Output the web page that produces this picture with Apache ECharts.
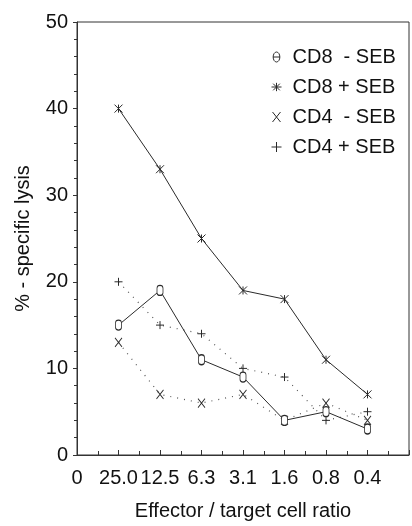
<!DOCTYPE html>
<html><head><meta charset="utf-8">
<script src="https://cdn.jsdelivr.net/npm/echarts@6/dist/echarts.min.js"></script>
<style>html,body{margin:0;padding:0;background:#fff}#c{width:412px;height:526px}</style>
</head><body><div id="c"></div>
<script>
const ratioLabels = ['25.0', '12.5', '6.3', '3.1', '1.6', '0.8', '0.4'];
const cd8MinusSEB = [15, 19, 11, 9, 4, 5, 3];
const cd8PlusSEB  = [40, 33, 25, 19, 18, 11, 7];
const cd4MinusSEB = [13, 7, 6, 7, 4, 6, 4];
const cd4PlusSEB  = [20, 15, 14, 10, 9, 4, 5];
const seriesNames = ['CD8  - SEB', 'CD8 + SEB', 'CD4  - SEB', 'CD4 + SEB'];
const yTicks = [0, 10, 20, 30, 40, 50];

const tickLabels = ['0'].concat(ratioLabels).concat(['']);
const toPts = arr => arr.map((v, i) => [i + 1, v]);

const INK = '#2a2a2a';
const pill = 'path://M0,3A3,3 0 0 1 6,3L6,8A3,3 0 0 1 0,8Z';
const theta = 'path://M0,6A4,6 0 1 1 8,6A4,6 0 1 1 0,6ZM0,6L8,6';
const aster = 'path://M0,0L10,10M10,0L0,10M5,0L5,10';
const aster2 = 'path://M2,1L10,9M10,1L2,9M6,0L6,10M0,5L12,5';
const xmark = 'path://M0,0L8,10M8,0L0,10';
const plus = 'path://M5,0L5,10M0,5L10,5';

const sym = { color: '#fff', borderColor: INK, borderWidth: 1 };
function mk(name, data, symbol, size, dotted) {
  return {
    name, type: 'line', data: toPts(data), symbol, symbolSize: size,
    itemStyle: sym,
    lineStyle: dotted ? { color: '#555', width: 1.2, type: [1, 6] } : { color: INK, width: 1 },
    emphasis: { disabled: true }, animation: false, z: dotted ? 2 : 3
  };
}

const chart = echarts.init(document.getElementById('c'));
chart.setOption({
  animation: false,
  textStyle: { fontFamily: 'Liberation Sans, Arial, sans-serif' },
  grid: { left: 77, right: 3, top: 22, bottom: 67, show: true, borderColor: '#333', borderWidth: 1 },
  legend: {
    orient: 'vertical', left: 266, top: 42, itemGap: 10, itemWidth: 10, itemHeight: 10,
    textStyle: { fontSize: 20, color: '#111', padding: [0, 0, 0, 6], fontFamily: 'Liberation Sans, Arial, sans-serif' },
    data: [
      { name: seriesNames[0], icon: theta, itemStyle: sym },
      { name: seriesNames[1], icon: aster2, itemStyle: sym },
      { name: seriesNames[2], icon: xmark, itemStyle: sym },
      { name: seriesNames[3], icon: plus, itemStyle: sym }
    ]
  },
  xAxis: {
    type: 'value', min: 0, max: 8, interval: 1,
    name: 'Effector / target cell ratio', nameLocation: 'middle', nameGap: 46,
    nameTextStyle: { fontSize: 20, color: '#111' },
    axisLine: { lineStyle: { color: '#333' } },
    axisTick: { inside: true, length: 5, lineStyle: { color: '#333' } },
    minorTick: { show: true, splitNumber: 2, length: 4, lineStyle: { color: '#333' } },
    splitLine: { show: false },
    axisLabel: { fontSize: 20, color: '#111', margin: 13, formatter: v => tickLabels[Math.round(v)] || '' }
  },
  yAxis: {
    type: 'value', min: yTicks[0], max: yTicks[yTicks.length - 1], interval: 10,
    name: '% - specific lysis', nameLocation: 'middle', nameGap: 44, nameRotate: 90,
    nameTextStyle: { fontSize: 20, color: '#111' },
    axisLine: { show: true, lineStyle: { color: '#333' } },
    axisTick: { show: true, length: 4, lineStyle: { color: '#333' } },
    minorTick: { show: true, splitNumber: 5, length: 3, lineStyle: { color: '#333' } },
    splitLine: { show: false },
    axisLabel: { fontSize: 20, color: '#111', margin: 9 }
  },
  series: [
    mk(seriesNames[0], cd8MinusSEB, pill, [6, 10], false),
    mk(seriesNames[1], cd8PlusSEB, aster, 8, false),
    mk(seriesNames[2], cd4MinusSEB, xmark, [7, 9], true),
    mk(seriesNames[3], cd4PlusSEB, plus, 8, true)
  ]
});
</script></body></html>
